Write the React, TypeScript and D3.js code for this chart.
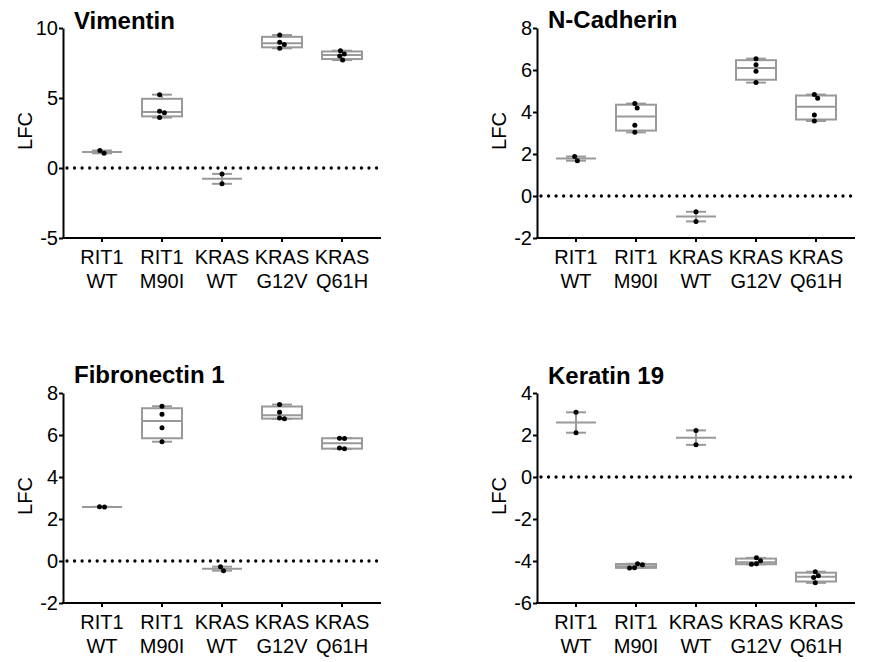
import React, { useEffect, useRef } from 'react';
import * as d3 from 'd3';

// category labels (two lines each)
const genes = ["RIT1", "RIT1", "KRAS", "KRAS", "KRAS"];
const variants = ["WT", "M90I", "WT", "G12V", "Q61H"];

// replicate LFC values per group
const vimentin = [
  [1.25, 1.05],
  [5.24, 4.05, 3.95, 3.6],
  [-0.42, -1.13],
  [9.5, 8.98, 8.83, 8.55],
  [8.38, 8.15, 8.0, 7.71],
];
const nCadherin = [
  [1.88, 1.68],
  [4.4, 4.19, 3.37, 3.03],
  [-0.75, -1.21],
  [6.54, 6.25, 5.94, 5.4],
  [4.83, 4.65, 3.86, 3.57],
];
const fibronectin1 = [
  [2.58, 2.57],
  [7.37, 6.99, 6.34, 5.68],
  [-0.27, -0.46],
  [7.45, 7.08, 6.81, 6.77],
  [5.85, 5.83, 5.38, 5.34],
];
const keratin19 = [
  [3.08, 2.11],
  [-4.13, -4.18, -4.32, -4.33],
  [2.22, 1.53],
  [-3.85, -3.99, -4.13, -4.16],
  [-4.51, -4.7, -4.79, -5.04],
];

const vimentinTicks = [-5, 0, 5, 10];
const nCadherinTicks = [-2, 0, 2, 4, 6, 8];
const fibronectinTicks = [-2, 0, 2, 4, 6, 8];
const keratinTicks = [-6, -4, -2, 0, 2, 4];

const panels = [
  { title: "Vimentin", values: vimentin, ticks: vimentinTicks, left: 63, top: 28, titleY: 29 },
  { title: "N-Cadherin", values: nCadherin, ticks: nCadherinTicks, left: 537, top: 28, titleY: 28 },
  { title: "Fibronectin 1", values: fibronectin1, ticks: fibronectinTicks, left: 63, top: 393, titleY: 383 },
  { title: "Keratin 19", values: keratin19, ticks: keratinTicks, left: 537, top: 393, titleY: 384 },
];

const FONT = "'Liberation Sans', Arial, sans-serif";
const GRAY = "#999";
const plotH = 210;
const axisLen = 318;

// GraphPad-style percentile ((n+1)p)
function quantile(s, p) {
  const n = s.length;
  const h = (n + 1) * p;
  if (h <= 1) return s[0];
  if (h >= n) return s[n - 1];
  const lo = Math.floor(h);
  return s[lo - 1] + (h - lo) * (s[lo] - s[lo - 1]);
}

// simple beeswarm so overlapping dots get pushed sideways
function swarm(ys, D) {
  const placed = [];
  const order = ys.map((y, i) => i).sort((a, b) => ys[a] - ys[b]);
  const xs = new Array(ys.length).fill(0);
  order.forEach(i => {
    const y = ys[i];
    const cands = [0];
    placed.forEach(p => {
      const dy = Math.abs(p.y - y);
      if (dy < D) {
        const dx = Math.sqrt(D * D - dy * dy);
        cands.push(p.x + dx, p.x - dx);
      }
    });
    const ok = cands.filter(c => placed.every(p => Math.hypot(p.x - c, p.y - y) >= D - 0.01));
    ok.sort((a, b) => Math.abs(a) - Math.abs(b) || b - a);
    const x = ok[0];
    xs[i] = x;
    placed.push({ x, y });
  });
  const mid = (d3.min(xs) + d3.max(xs)) / 2;
  return xs.map(x => x - mid);
}

function drawPanel(svg, p) {
  const g = svg.append("g").attr("transform", `translate(${p.left},${p.top})`);

  const y = d3.scaleLinear()
    .domain(d3.extent(p.ticks))
    .range([plotH, 0]);

  const x = d3.scaleBand()
    .domain(d3.range(genes.length))
    .range([9, 309])
    .padding(0);

  const cx = i => x(i) + x.bandwidth() / 2;

  // title
  g.append("text")
    .attr("x", 11)
    .attr("y", p.titleY - p.top)
    .attr("font-family", FONT)
    .attr("font-weight", "bold")
    .attr("font-size", 24)
    .text(p.title);

  // y axis
  const yAxis = g.append("g")
    .call(d3.axisLeft(y)
      .tickValues(p.ticks)
      .tickFormat(d => String(d))
      .tickSize(4)
      .tickSizeOuter(0)
      .tickPadding(1));
  yAxis.select(".domain").attr("stroke-width", 2).attr("stroke", "#000");
  yAxis.selectAll(".tick line").attr("stroke-width", 2).attr("stroke", "#000");
  yAxis.selectAll(".tick text")
    .attr("font-family", FONT)
    .attr("font-size", 20)
    .attr("fill", "#000");

  g.append("text")
    .attr("transform", `translate(-38,${plotH / 2 - 2}) rotate(-90)`)
    .attr("text-anchor", "middle")
    .attr("dominant-baseline", "central")
    .attr("font-family", FONT)
    .attr("font-size", 20)
    .text("LFC");

  // x axis
  g.append("line")
    .attr("x1", -1).attr("x2", axisLen)
    .attr("y1", plotH).attr("y2", plotH)
    .attr("stroke", "#000").attr("stroke-width", 2);

  genes.forEach((gene, i) => {
    g.append("line")
      .attr("x1", cx(i)).attr("x2", cx(i))
      .attr("y1", plotH).attr("y2", plotH + 4)
      .attr("stroke", "#000").attr("stroke-width", 2);
    g.append("text")
      .attr("x", cx(i)).attr("y", plotH + 26)
      .attr("text-anchor", "middle")
      .attr("font-family", FONT).attr("font-size", 20)
      .text(gene);
    g.append("text")
      .attr("x", cx(i)).attr("y", plotH + 50)
      .attr("text-anchor", "middle")
      .attr("font-family", FONT).attr("font-size", 20)
      .text(variants[i]);
  });

  // dotted zero line
  g.append("line")
    .attr("x1", 4).attr("x2", axisLen)
    .attr("y1", y(0)).attr("y2", y(0))
    .attr("stroke", "#000")
    .attr("stroke-width", 3.3)
    .attr("stroke-linecap", "round")
    .attr("stroke-dasharray", "0 7.55");

  // boxes + whiskers
  const boxW = 40, capW = 20;
  p.values.forEach((vals, i) => {
    const s = vals.slice().sort(d3.ascending);
    const c = cx(i);
    const med = d3.median(s);
    const lo = s[0], hi = s[s.length - 1];
    const bg = g.append("g").attr("stroke", GRAY).attr("stroke-width", 2).attr("fill", "none");

    let q1 = med, q3 = med;
    if (s.length >= 3) {
      q1 = quantile(s, 0.25);
      q3 = quantile(s, 0.75);
      bg.append("rect")
        .attr("x", c - boxW / 2).attr("width", boxW)
        .attr("y", y(q3)).attr("height", y(q1) - y(q3));
    }
    bg.append("line").attr("x1", c).attr("x2", c).attr("y1", y(hi)).attr("y2", y(q3));
    bg.append("line").attr("x1", c).attr("x2", c).attr("y1", y(q1)).attr("y2", y(lo));
    bg.append("line").attr("x1", c - capW / 2).attr("x2", c + capW / 2).attr("y1", y(hi)).attr("y2", y(hi));
    bg.append("line").attr("x1", c - capW / 2).attr("x2", c + capW / 2).attr("y1", y(lo)).attr("y2", y(lo));
    bg.append("line").attr("x1", c - boxW / 2).attr("x2", c + boxW / 2).attr("y1", y(med)).attr("y2", y(med));

    const offs = swarm(vals.map(v => y(v)), 5);
    g.append("g").selectAll("circle")
      .data(vals)
      .join("circle")
      .attr("cx", (d, k) => c + offs[k])
      .attr("cy", d => y(d))
      .attr("r", 2.5)
      .attr("fill", "#000");
  });
}

export default function App() {
  const svgRef = useRef(null);

  useEffect(() => {
    const svg = d3.select(svgRef.current);
    svg.selectAll("*").remove();
    panels.forEach(p => drawPanel(svg, p));
  }, []);

  return (
    <svg
      ref={svgRef}
      width={869}
      height={662}
      style={{ position: 'absolute', left: 0, top: 0, background: '#fff' }}
    />
  );
}
